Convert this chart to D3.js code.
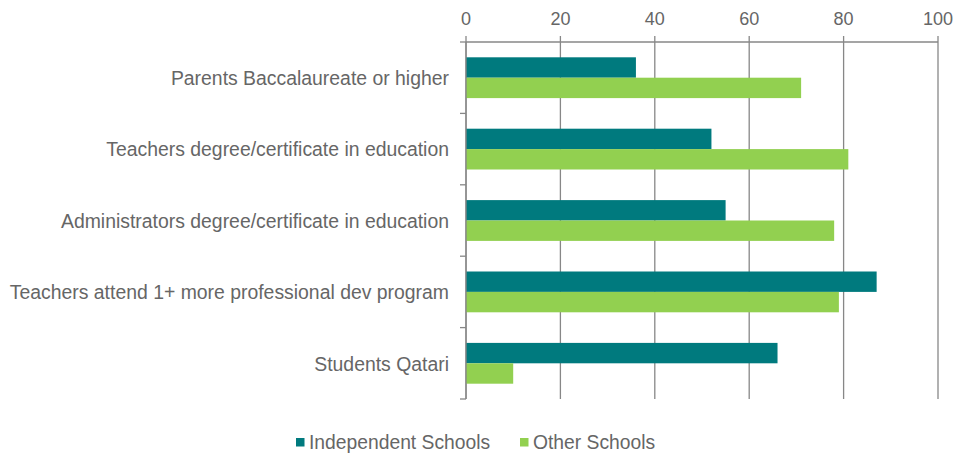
<!DOCTYPE html>
<html>
<head>
<meta charset="utf-8">
<script src="https://cdn.jsdelivr.net/npm/d3@7"></script>
<style>
  html, body { margin: 0; padding: 0; background: #fff; }
  svg text { font-family: "Liberation Sans", Arial, sans-serif; }
</style>
</head>
<body>
<div id="container"></div>
<script>
const categories = [
    'Parents Baccalaureate or higher',
    'Teachers degree/certificate in education',
    'Administrators degree/certificate in education',
    'Teachers attend 1+ more professional dev program',
    'Students Qatari'
];
const seriesNames = ['Independent Schools', 'Other Schools'];
const independent = [36, 52, 55, 87, 66];
const other = [71, 81, 78, 79, 10];
const xTicks = [0, 20, 40, 60, 80, 100];
const colors = ['#007A7E', '#92D050'];

const width = 959, height = 453;
const margin = { top: 42, left: 466, right: 21, bottom: 54 };
const textColor = '#666666';

const svg = d3.select('#container')
    .append('svg')
    .attr('width', width)
    .attr('height', height);

const x = d3.scaleLinear().domain([0, 100]).range([margin.left, width - margin.right]);
const y = d3.scaleBand().domain(categories).range([margin.top, height - margin.bottom]).paddingInner(0).paddingOuter(0);
const inner = d3.scaleBand().domain(seriesNames).range([0, y.bandwidth()]).paddingInner(0).paddingOuter(0.75);

// gridlines (including the short stubs above the top axis)
svg.append('g')
    .selectAll('line')
    .data(xTicks)
    .enter()
    .append('line')
    .attr('x1', d => x(d))
    .attr('x2', d => x(d))
    .attr('y1', margin.top - 6)
    .attr('y2', height - margin.bottom)
    .attr('stroke', '#878787')
    .attr('stroke-width', 1.3);

// top axis line
svg.append('line')
    .attr('x1', x(0))
    .attr('x2', x(100))
    .attr('y1', margin.top)
    .attr('y2', margin.top)
    .attr('stroke', '#878787')
    .attr('stroke-width', 1.3);

// tick labels
svg.append('g')
    .selectAll('text')
    .data(xTicks)
    .enter()
    .append('text')
    .attr('x', d => x(d))
    .attr('y', 25)
    .attr('text-anchor', 'middle')
    .attr('font-size', 18)
    .attr('fill', textColor)
    .text(d => d);

// bars
const rows = categories.map((c, i) => ({ cat: c, vals: [independent[i], other[i]] }));
const g = svg.append('g')
    .selectAll('g')
    .data(rows)
    .enter()
    .append('g')
    .attr('transform', d => `translate(0,${y(d.cat)})`);
g.selectAll('rect')
    .data(d => d.vals.map((v, j) => ({ name: seriesNames[j], v, j })))
    .enter()
    .append('rect')
    .attr('x', x(0))
    .attr('y', d => inner(d.name))
    .attr('width', d => x(d.v) - x(0))
    .attr('height', inner.bandwidth())
    .attr('fill', d => colors[d.j]);

// left axis line + ticks at band edges
svg.append('line')
    .attr('x1', x(0))
    .attr('x2', x(0))
    .attr('y1', margin.top)
    .attr('y2', height - margin.bottom)
    .attr('stroke', '#878787')
    .attr('stroke-width', 1.3);
const edges = categories.map(c => y(c)).concat([height - margin.bottom]);
svg.append('g')
    .selectAll('line')
    .data(edges)
    .enter()
    .append('line')
    .attr('x1', x(0) - 6)
    .attr('x2', x(0))
    .attr('y1', d => d)
    .attr('y2', d => d)
    .attr('stroke', '#878787')
    .attr('stroke-width', 1.3);

// category labels
svg.append('g')
    .selectAll('text')
    .data(categories)
    .enter()
    .append('text')
    .attr('x', 449)
    .attr('y', d => y(d) + y.bandwidth() / 2)
    .attr('dy', '0.38em')
    .attr('text-anchor', 'end')
    .attr('font-size', 19.4)
    .attr('fill', textColor)
    .text(d => d);

// legend
const legendX = [296, 520];
const legend = svg.append('g')
    .selectAll('g')
    .data(seriesNames)
    .enter()
    .append('g')
    .attr('transform', (d, i) => `translate(${legendX[i]},442)`);
legend.append('rect')
    .attr('x', 0)
    .attr('y', -4)
    .attr('width', 8.5)
    .attr('height', 8.5)
    .attr('fill', (d, i) => colors[i]);
legend.append('text')
    .attr('x', 13)
    .attr('y', 0)
    .attr('dy', '0.36em')
    .attr('font-size', 19.3)
    .attr('fill', textColor)
    .text(d => d);
</script>
</body>
</html>
